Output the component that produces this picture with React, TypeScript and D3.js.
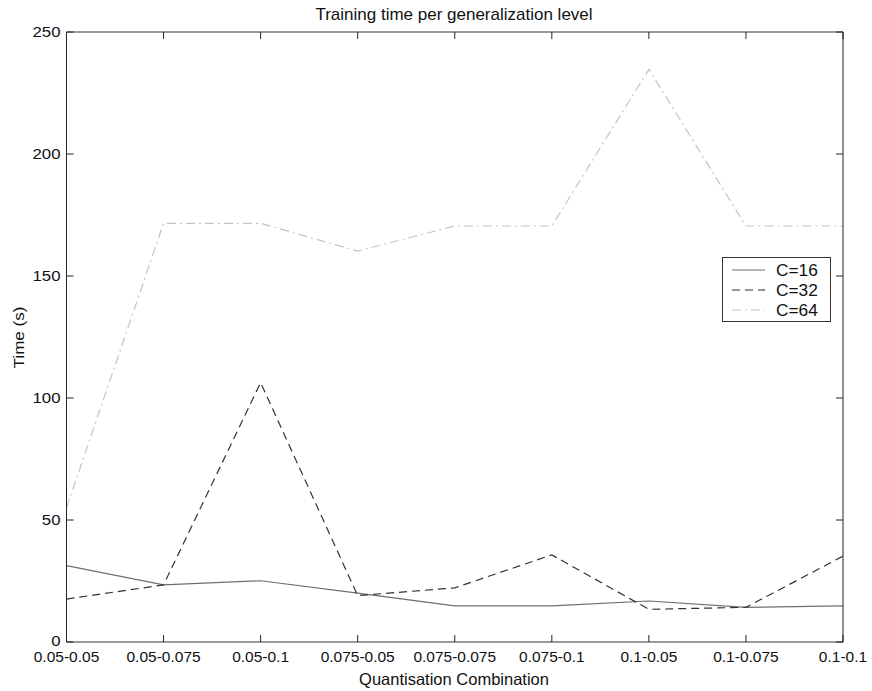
import React from "react";
import * as d3 from "d3";

const categories = [
  "0.05-0.05", "0.05-0.075", "0.05-0.1",
  "0.075-0.05", "0.075-0.075", "0.075-0.1",
  "0.1-0.05", "0.1-0.075", "0.1-0.1",
];
const c16 = [31.3, 23.4, 25.1, 20.0, 14.8, 14.8, 16.8, 14.2, 14.8];
const c32 = [17.6, 23.4, 106.3, 19.0, 22.2, 35.7, 13.4, 14.2, 35.2];
const c64 = [55.0, 171.6, 171.6, 160.2, 170.5, 170.5, 234.7, 170.5, 170.5];
const yTicks = [0, 50, 100, 150, 200, 250];

const seriesNames = ["C=16", "C=32", "C=64"];
const seriesStyles = [
  { stroke: "#6e6e6e", dash: "", width: 1.2 },
  { stroke: "#333333", dash: "8,5", width: 1.2 },
  { stroke: "#c4c4c4", dash: "9,4,2,4", width: 1.2 },
];

const W = 872;
const H = 691;
const margin = { left: 66.5, right: 29, top: 32, bottom: 49 };
const font = "Liberation Sans, Arial, sans-serif";

export default function App() {
  const x = d3
    .scalePoint<string>()
    .domain(categories)
    .range([margin.left, W - margin.right]);
  const y = d3
    .scaleLinear()
    .domain([0, 250])
    .range([H - margin.bottom, margin.top]);
  const line = d3
    .line<number>()
    .x((_, i) => x(categories[i]) as number)
    .y((d) => y(d));
  const series = [c16, c32, c64];
  const x0 = margin.left;
  const x1 = W - margin.right;
  const y0 = H - margin.bottom;
  const y1 = margin.top;
  const tick = 7;

  return (
    <svg
      width={W}
      height={H}
      style={{ position: "absolute", left: 0, top: 0, background: "#fff" }}
      fontFamily={font}
    >
      <rect x={0} y={0} width={W} height={H} fill="#fff" />
      {series.map((s, i) => (
        <path
          key={i}
          d={line(s) || ""}
          fill="none"
          stroke={seriesStyles[i].stroke}
          strokeWidth={seriesStyles[i].width}
          strokeDasharray={seriesStyles[i].dash}
        />
      ))}
      {/* axes box */}
      <line x1={x0} x2={x1} y1={y1} y2={y1} stroke="#777" strokeWidth={1.6} />
      <line x1={x0} x2={x1} y1={y0} y2={y0} stroke="#777" strokeWidth={1.6} />
      <line x1={x0} x2={x0} y1={y1} y2={y0} stroke="#222" strokeWidth={1} />
      <line x1={x1} x2={x1} y1={y1} y2={y0} stroke="#222" strokeWidth={1} />
      {categories.map((c) => {
        const px = x(c) as number;
        return (
          <g key={c}>
            <line x1={px} x2={px} y1={y0} y2={y0 - tick} stroke="#222" />
            <line x1={px} x2={px} y1={y1} y2={y1 + tick} stroke="#222" />
            <text
              x={px}
              y={y0 + 20}
              textAnchor="middle"
              fontSize={15.5}
              fill="#111"
            >
              {c}
            </text>
          </g>
        );
      })}
      {yTicks.map((t) => {
        const py = y(t);
        return (
          <g key={t}>
            <line x1={x0} x2={x0 + tick} y1={py} y2={py} stroke="#222" />
            <line x1={x1} x2={x1 - tick} y1={py} y2={py} stroke="#222" />
            <text
              transform={`translate(${x0 - 6},${t === 0 ? py + 3.5 : py + 5}) scale(1.2,1)`}
              textAnchor="end"
              fontSize={14}
              fill="#111"
            >
              {t}
            </text>
          </g>
        );
      })}
      <text x={454} y={19.5} textAnchor="middle" fontSize={17} fill="#111">
        Training time per generalization level
      </text>
      <text x={454} y={685} textAnchor="middle" fontSize={16.5} fill="#111">
        Quantisation Combination
      </text>
      <text
        transform={`translate(24,337.5) rotate(-90) scale(1.1,1)`}
        textAnchor="middle"
        fontSize={15.5}
        fill="#111"
      >
        Time (s)
      </text>
      {/* legend */}
      <g>
        <rect
          x={722.5}
          y={257.5}
          width={108}
          height={64}
          fill="#fff"
          stroke="#333"
          strokeWidth={1}
        />
        {seriesNames.map((n, i) => {
          const ly = 270 + i * 20;
          return (
            <g key={n}>
              <line
                x1={732}
                x2={765}
                y1={ly}
                y2={ly}
                stroke={seriesStyles[i].stroke}
                strokeWidth={seriesStyles[i].width}
                strokeDasharray={seriesStyles[i].dash}
              />
              <text
                transform={`translate(776,${ly + 6}) scale(1.08,1)`}
                fontSize={16}
                fill="#111"
              >
                {n}
              </text>
            </g>
          );
        })}
      </g>
    </svg>
  );
}
